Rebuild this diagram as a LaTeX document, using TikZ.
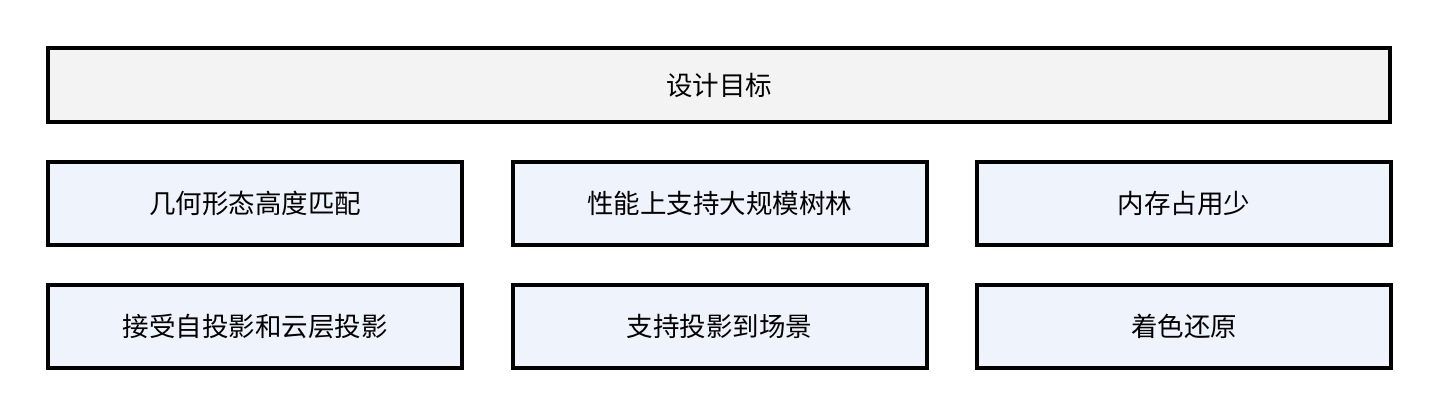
\documentclass[tikz,border=0pt]{standalone}
\usepackage{fontspec}
\newfontfamily\cjk{Noto Sans CJK SC}
\usetikzlibrary{calc}
\definecolor{goalgray}{HTML}{F3F3F3}
\definecolor{itemblue}{HTML}{EEF3FC}

\begin{document}
\begin{tikzpicture}[x=1pt, y=-1pt,
    goalbox/.style={draw=black, line width=4pt, fill=goalgray, minimum width=1342pt, minimum height=74pt, font=\cjk\fontsize{26.5}{30}\selectfont},
    itembox/.style={draw=black, line width=4pt, fill=itemblue, minimum width=414pt, minimum height=83pt, font=\cjk\fontsize{26.5}{30}\selectfont}]
    \useasboundingbox (0,0) rectangle (1440,417);

    % design goal:
    \node[goalbox] (goal) at (719,85) {设计目标};

    % first row of items
    \foreach \c/\txt in {0/几何形态高度匹配, 1/性能上支持大规模树林, 2/内存占用少} {
        \node[itembox] (a\c) at ($464.5*(\c,0) + (255,203.5)$) {\txt};
    }

    % second row of items
    \foreach \c/\txt in {0/接受自投影和云层投影, 1/支持投影到场景, 2/着色还原} {
        \node[itembox] (b\c) at ($464.5*(\c,0) + (255,326.5)$) {\txt};
    }

\end{tikzpicture}
\end{document}
